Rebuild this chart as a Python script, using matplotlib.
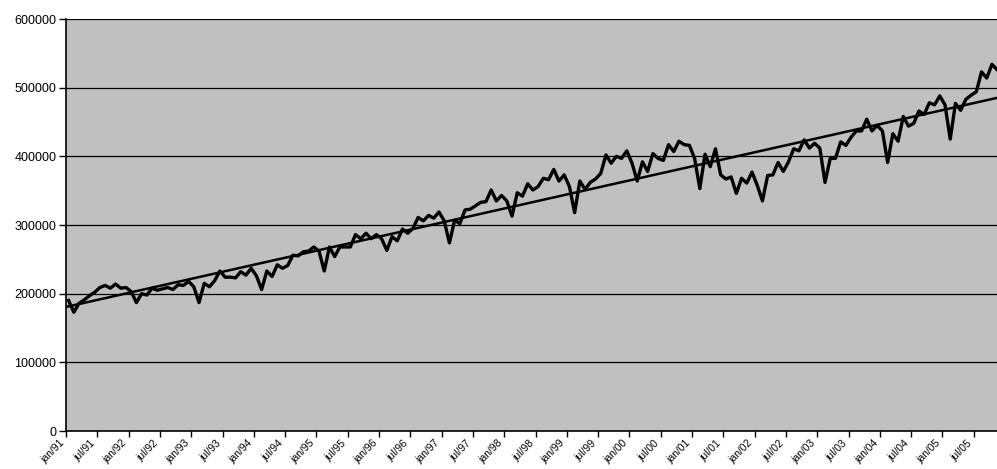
import numpy as np
import matplotlib.pyplot as plt
from matplotlib.transforms import ScaledTranslation

plt.rcParams['font.family'] = ['Liberation Sans', 'DejaVu Sans']

# série mensal, jan/91 a dez/05
valores = [
    190000, 173000, 186000, 191000, 197000, 202000, 209000, 212000, 208000, 214000,
    208000, 209000, 203000, 187000, 200000, 198000, 208000, 205000, 207000, 209000,
    206000, 213000, 212000, 218000, 210000, 187000, 215000, 210000, 219000, 233000,
    224000, 224000, 223000, 232000, 227000, 237000, 226000, 206000, 233000, 225000,
    242000, 237000, 241000, 256000, 255000, 261000, 262000, 268000, 262000, 233000,
    268000, 254000, 268000, 268000, 268000, 286000, 280000, 288000, 280000, 286000,
    280000, 263000, 283000, 277000, 294000, 288000, 295000, 311000, 306000, 314000,
    310000, 319000, 306000, 274000, 307000, 302000, 322000, 323000, 328000, 333000,
    334000, 351000, 335000, 343000, 335000, 313000, 347000, 342000, 360000, 351000,
    356000, 368000, 366000, 381000, 364000, 373000, 356000, 318000, 364000, 352000,
    362000, 367000, 375000, 402000, 390000, 400000, 397000, 408000, 390000, 364000,
    392000, 378000, 404000, 397000, 394000, 417000, 407000, 422000, 417000, 416000,
    397000, 353000, 403000, 385000, 411000, 373000, 367000, 370000, 346000, 368000,
    361000, 377000, 358000, 335000, 372000, 373000, 391000, 378000, 392000, 411000,
    408000, 424000, 412000, 419000, 412000, 362000, 397000, 397000, 421000, 416000,
    428000, 437000, 437000, 454000, 437000, 445000, 437000, 391000, 433000, 422000,
    458000, 444000, 448000, 466000, 461000, 478000, 475000, 488000, 475000, 425000,
    477000, 467000, 483000, 489000, 494000, 523000, 514000, 534000, 526000, 520000,
]

rotulos = [
    'jan/91', 'jul/91', 'jan/92', 'jul/92', 'jan/93', 'jul/93', 'jan/94', 'jul/94',
    'jan/95', 'jul/95', 'jan/96', 'jul/96', 'jan/97', 'jul/97', 'jan/98', 'jul/98',
    'jan/99', 'jul/99', 'jan/00', 'jul/00', 'jan/01', 'jul/01', 'jan/02', 'jul/02',
    'jan/03', 'jul/03', 'jan/04', 'jul/04', 'jan/05', 'jul/05',
]

x = np.arange(len(valores)) + 0.5
coef = np.polyfit(x, valores, 1)

fig = plt.figure(figsize=(9.97, 4.69), dpi=100)
ax = fig.add_axes([66 / 997, 38 / 469, 939 / 997, 412 / 469])
ax.set_facecolor('#c0c0c0')

ax.plot(x, valores, color='black', lw=2.4)
ax.plot([0, len(valores)], np.polyval(coef, [0, len(valores)]), color='black', lw=1.8)

ax.set_xlim(0, len(valores))
ax.set_ylim(0, 600000)
ax.set_yticks(np.arange(0, 600001, 100000))
ax.yaxis.grid(True, color='black', lw=0.9)
ax.set_axisbelow(True)

ax.set_xticks(np.arange(0, len(valores), 6))
ax.set_xticklabels(rotulos, rotation=45, ha='right', va='top', fontsize=7.5)
desloc = ScaledTranslation(-9 / 72, 0, fig.dpi_scale_trans)
for lbl in ax.get_xticklabels():
    lbl.set_transform(lbl.get_transform() + desloc)

ax.tick_params(axis='x', length=4, width=1, direction='out', pad=1)
ax.tick_params(axis='y', length=5, width=1, direction='out', labelsize=9, pad=2)

for lado in ['top', 'right']:
    ax.spines[lado].set_visible(False)
ax.spines['left'].set_linewidth(1.2)
ax.spines['bottom'].set_linewidth(1.2)

fig.savefig('out.png', dpi=100)
